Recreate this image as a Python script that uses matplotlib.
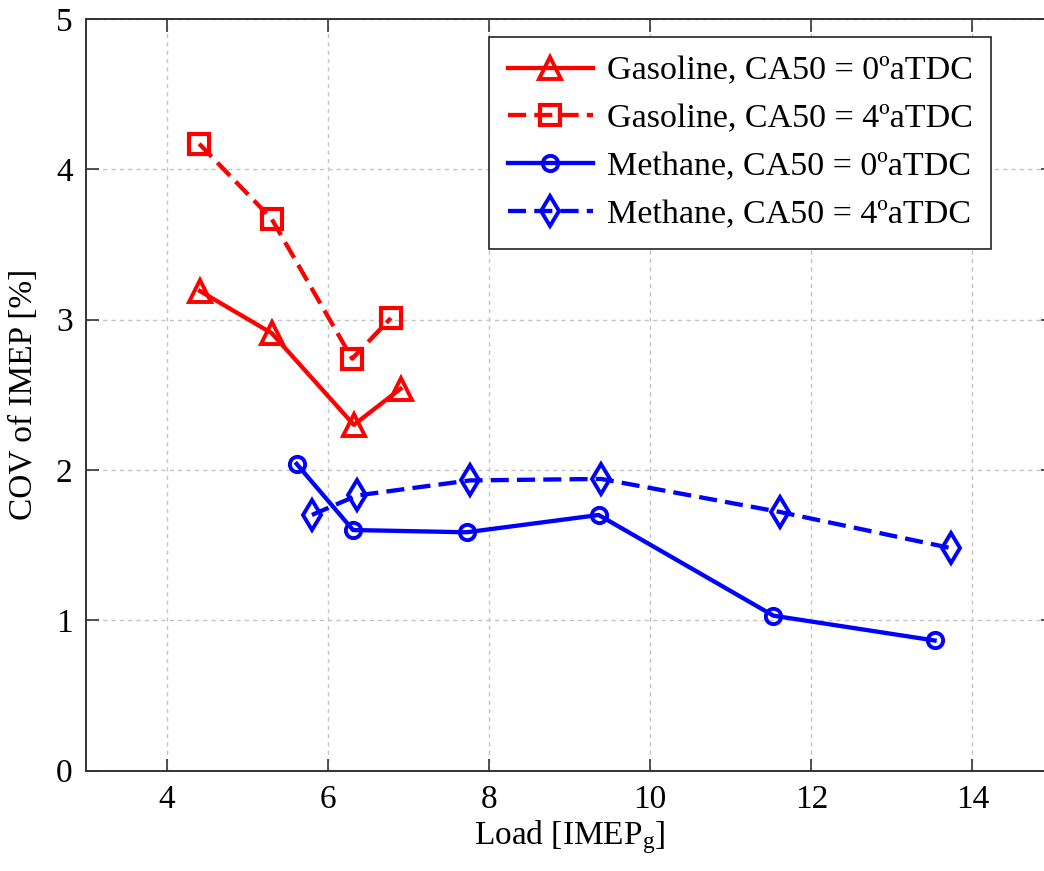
import matplotlib
matplotlib.use("Agg")
import matplotlib.pyplot as plt

plt.rcParams['font.family'] = ['Liberation Serif', 'DejaVu Serif']
plt.rcParams['mathtext.fontset'] = 'custom'
plt.rcParams['mathtext.rm'] = 'Liberation Serif'
plt.rcParams['mathtext.it'] = 'Liberation Serif:italic'

gas0_x = [4.41, 5.30, 6.32, 6.90]
gas0_y = [3.19, 2.91, 2.30, 2.54]
gas4_x = [4.40, 5.30, 6.30, 6.78]
gas4_y = [4.17, 3.67, 2.74, 3.01]
met0_x = [5.61, 6.31, 7.72, 9.36, 11.53, 13.53]
met0_y = [2.04, 1.60, 1.585, 1.70, 1.03, 0.865]
met4_x = [5.80, 6.36, 7.76, 9.39, 11.61, 13.73]
met4_y = [1.70, 1.83, 1.93, 1.94, 1.72, 1.48]

labels = ["Gasoline, CA50 = 0ºaTDC", "Gasoline, CA50 = 4ºaTDC",
          "Methane, CA50 = 0ºaTDC", "Methane, CA50 = 4ºaTDC"]
x_ticks = [4, 6, 8, 10, 12, 14]
y_ticks = [0, 1, 2, 3, 4, 5]

W, H = 1044, 871
fig = plt.figure(figsize=(W / 100, H / 100), dpi=100)
left, right = 86.4, 1053.0
top, bottom = 19.0, 770.5
ax = fig.add_axes([left / W, 1 - bottom / H, (right - left) / W, (bottom - top) / H])

red, blue = '#ff0000', '#0000ff'
lw = 3.1
ax.plot(gas0_x, gas0_y, color=red, lw=lw, marker='^', ms=15.5, mfc='none', mew=2.8,
        label=labels[0], zorder=3)
l2, = ax.plot(gas4_x, gas4_y, color=red, lw=lw, marker='s', ms=15, mfc='none', mew=3.0,
              label=labels[1], zorder=3)
ax.plot(met0_x, met0_y, color=blue, lw=lw, marker='o', ms=11, mfc='none', mew=2.8,
        label=labels[2], zorder=3)
l4, = ax.plot(met4_x, met4_y, color=blue, lw=lw, marker='d', ms=15, mfc='none', mew=2.8,
              label=labels[3], zorder=3)
for l in (l2, l4):
    l.set_dashes([4.2, 1.9])

ax.set_xlim(3, 15)
ax.set_ylim(0, 5)
ax.set_xticks(x_ticks)
ax.set_yticks(y_ticks)
ax.grid(True, color='#c4c4c4', linestyle=(0, (3, 3)), lw=1.0)
ax.set_axisbelow(True)
ax.tick_params(direction='in', length=9, width=1.2, labelsize=24, top=True,
               right=True, pad=10, color='#333333')
for s in ax.spines.values():
    s.set_color('#333333')
    s.set_linewidth(1.4)

ax.set_xlabel('Load [IMEP$_{\\mathrm{g}}$]', fontsize=24, labelpad=2)
ax.set_ylabel('COV of IMEP [%]', fontsize=24, labelpad=12)

leg = ax.legend(loc='upper right', bbox_to_anchor=(0.936, 0.976), borderaxespad=0,
                fontsize=24.5, handlelength=2.5, labelspacing=0.5, handletextpad=0.4,
                borderpad=0.55, fancybox=False, framealpha=1, edgecolor='#222222')
leg.get_frame().set_linewidth(1.2)

fig.savefig('out.png', dpi=100, facecolor='white')
